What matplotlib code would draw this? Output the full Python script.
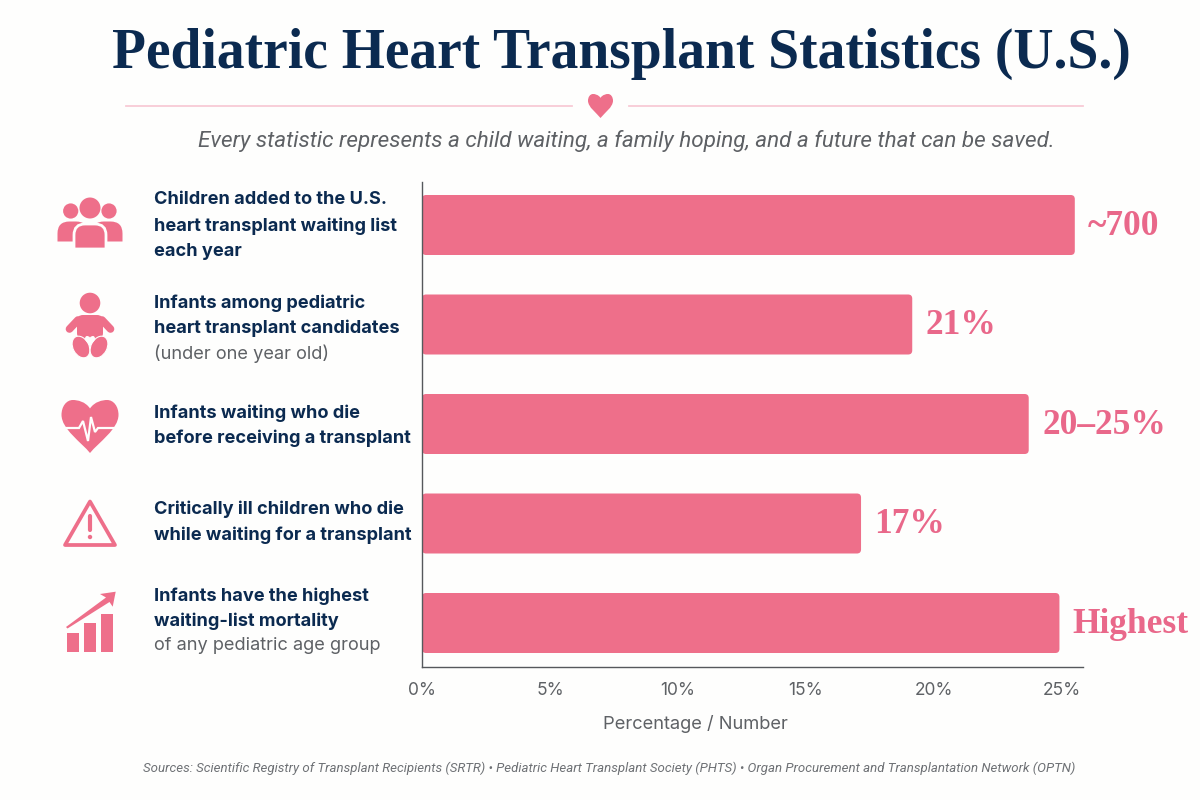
import matplotlib
matplotlib.use("Agg")
import matplotlib.pyplot as plt
from matplotlib.patches import FancyBboxPatch, Circle, Ellipse, Rectangle, PathPatch, Polygon
from matplotlib.path import Path

# values
categories = ["Children added", "Infants among candidates", "Infants who die", "Critically ill", "Highest mortality"]
bar_values = [25.5, 19.15, 23.7, 17.15, 24.9]
value_labels = ["~700", "21%", "20–25%", "17%", "Highest"]
tick_values = [0, 5, 10, 15, 20, 25]
tick_labels = ["0%", "5%", "10%", "15%", "20%", "25%"]
bold_lines = [
    ["Children added to the U.S.", "heart transplant waiting list", "each year"],
    ["Infants among pediatric", "heart transplant candidates"],
    ["Infants waiting who die", "before receiving a transplant"],
    ["Critically ill children who die", "while waiting for a transplant"],
    ["Infants have the highest", "waiting-list mortality"],
]
light_lines = [[], ["(under one year old)"], [], [], ["of any pediatric age group"]]
label_y = [
    [200, 226, 252],
    [303, 328, 354],
    [413, 438],
    [509, 535],
    [596, 621, 646],
]

PINK = "#EE6F8A"
VALUE = "#E9688A"
NAVY = "#0B2A50"
GREY = "#5E6165"
BG = "#FEFEFD"

fig = plt.figure(figsize=(12, 8), dpi=100, facecolor=BG)

# overlay in pixel coords for the text and icons
ov = fig.add_axes([0, 0, 1, 1], zorder=3)
ov.set_xlim(0, 1200)
ov.set_ylim(800, 0)
ov.axis("off")
ov.patch.set_alpha(0)

# main chart, 0% at x=422, axis ends x=1083, y from 182 to 667
ax = fig.add_axes([422 / 1200, 1 - 667 / 800, 661 / 1200, 485 / 800], facecolor="none")
x_max = 661 / 25.6
ax.set_xlim(0, x_max)
spacing = 99.5
ax.set_ylim((667 - 225) / spacing, -(225 - 182) / spacing)
bar_h = 60 / spacing
asp = (485 / (ax.get_ylim()[0] - ax.get_ylim()[1])) / (661 / x_max)
for i, v in enumerate(bar_values):
    ax.add_patch(FancyBboxPatch((0, i - bar_h / 2), v, bar_h,
                                boxstyle="round,pad=0,rounding_size=0.16",
                                mutation_aspect=1 / asp, fc=PINK, ec="none"))
    ax.text(v + 0.52, i + 0.015, value_labels[i], family="Liberation Serif", fontweight="bold",
            fontsize=25.5, color=VALUE, va="center", ha="left", clip_on=False)
ax.set_xticks(tick_values)
ax.set_xticklabels(tick_labels, fontsize=12.5, color=GREY, family="Inter")
ax.set_yticks([])
ax.tick_params(axis="x", length=0, pad=11)
for s in ["top", "right"]:
    ax.spines[s].set_visible(False)
for s in ["left", "bottom"]:
    ax.spines[s].set_color("#55585C")
    ax.spines[s].set_linewidth(1)

# title block
ov.text(621, 54, "Pediatric Heart Transplant Statistics (U.S.)", family="Liberation Serif",
        fontweight="bold", fontsize=40, color=NAVY, ha="center", va="center")
ov.plot([126, 572], [106, 106], color="#F8CBD6", lw=1.3)
ov.plot([629, 1083], [106, 106], color="#F8CBD6", lw=1.3)

def heart(cx, top, w, h, fc, zorder=4):
    # heart shape scaled into a w by h box
    right = [(0.08, 0.03), (0.22, 0.0), (0.3, 0.0),
             (0.42, 0.0), (0.5, 0.13), (0.5, 0.28),
             (0.5, 0.55), (0.15, 0.8), (0, 1.0)]
    left = [(-a, b) for a, b in right[-2::-1]] + [(0, 0.16)]
    pts = [(0, 0.16)] + right + left + [(0, 0.16)]
    verts = [(cx + px * w, top + py * h) for px, py in pts]
    codes = [Path.MOVETO] + [Path.CURVE4] * 18 + [Path.CLOSEPOLY]
    ov.add_patch(PathPatch(Path(verts, codes), fc=fc, ec="none", zorder=zorder))

def dome(x0, x1, top, bottom, r, **kw):
    # body shape, round at the top and square at the bottom
    verts = [(x0, bottom), (x0, top + r), (x0, top), (x0 + r, top), (x1 - r, top),
             (x1, top), (x1, top + r), (x1, bottom), (x0, bottom)]
    codes = [Path.MOVETO, Path.LINETO, Path.CURVE3, Path.CURVE3, Path.LINETO,
             Path.CURVE3, Path.CURVE3, Path.LINETO, Path.CLOSEPOLY]
    ov.add_patch(PathPatch(Path(verts, codes), **kw))

heart(600.5, 94, 25, 24, PINK)
ov.text(626, 141, "Every statistic represents a child waiting, a family hoping, and a future that can be saved.",
        family="Roboto", style="italic", fontsize=16.2, color=GREY, ha="center", va="center")

# row labels
for i in range(5):
    rows = [(t, NAVY, "bold") for t in bold_lines[i]] + [(t, GREY, "normal") for t in light_lines[i]]
    for (t, col, wt), y in zip(rows, label_y[i]):
        ov.text(154, y, t, family="Inter", fontweight=wt, fontsize=13.1, color=col, ha="left", va="center")

ov.text(695, 724, "Percentage / Number", family="Inter", fontsize=13.2, color=GREY, ha="center", va="center")
ov.text(609, 768, "Sources: Scientific Registry of Transplant Recipients (SRTR) • Pediatric Heart Transplant Society (PHTS) • Organ Procurement and Transplantation Network (OPTN)",
        family="Roboto", style="italic", fontsize=9.5, color="#6E7175", ha="center", va="center")

# icon: people
ov.add_patch(Circle((90, 208), 10.5, fc=PINK, ec="none"))
ov.add_patch(Circle((70.7, 211), 7.6, fc=PINK, ec="none"))
ov.add_patch(Circle((109, 211), 7.6, fc=PINK, ec="none"))
dome(57.5, 88, 221.5, 241.5, 12, fc=PINK, ec="none")
dome(92, 122.5, 221.5, 241.5, 12, fc=PINK, ec="none")
dome(74, 106, 224, 249, 11, fc=PINK, ec=BG, lw=2)

# icon: baby
ov.add_patch(Circle((90, 303), 10.3, fc=PINK, ec="none"))
ov.add_patch(FancyBboxPatch((77, 315), 26, 24, boxstyle="round,pad=0,rounding_size=6", fc=PINK, ec="none"))
ov.plot([78, 69.5], [320, 329], color=PINK, lw=5.5, solid_capstyle="round")
ov.plot([102, 110.5], [320, 329], color=PINK, lw=5.5, solid_capstyle="round")
ov.add_patch(Ellipse((81, 347), 16, 23, angle=-28, fc=PINK, ec=BG, lw=0.8))
ov.add_patch(Ellipse((99, 347), 16, 23, angle=28, fc=PINK, ec=BG, lw=0.8))
heart(90, 336, 10, 9.5, BG, zorder=5)

# icon: heart with pulse
heart(90, 400, 57, 53, PINK)
ov.plot([62, 79, 83, 88, 91, 95, 98, 118], [428, 428, 421, 441, 417, 432, 428, 428],
        color=BG, lw=1.6, zorder=6, solid_joinstyle="miter")

# icon: warning triangle
ov.add_patch(Polygon([(90, 501.5), (65, 545), (115, 545)], closed=True, fc="none", ec=PINK, lw=2.7, joinstyle="round"))
ov.plot([90, 90], [516, 530], color=PINK, lw=3, solid_capstyle="round")
ov.add_patch(Circle((90, 537), 2.2, fc=PINK, ec="none"))

# icon: growth chart
for x0, y0 in [(67, 633), (84, 623), (101, 613.5)]:
    ov.add_patch(Rectangle((x0, y0), 12.3, 652 - y0, fc=PINK, ec="none"))
ov.add_patch(Polygon([(66, 627), (106, 597.5), (100, 594), (115.7, 591.7), (112.7, 606.7),
                      (109.5, 602), (67.5, 628.5)], closed=True, fc=PINK, ec="none"))

fig.savefig("out.png", dpi=100, facecolor=BG)
